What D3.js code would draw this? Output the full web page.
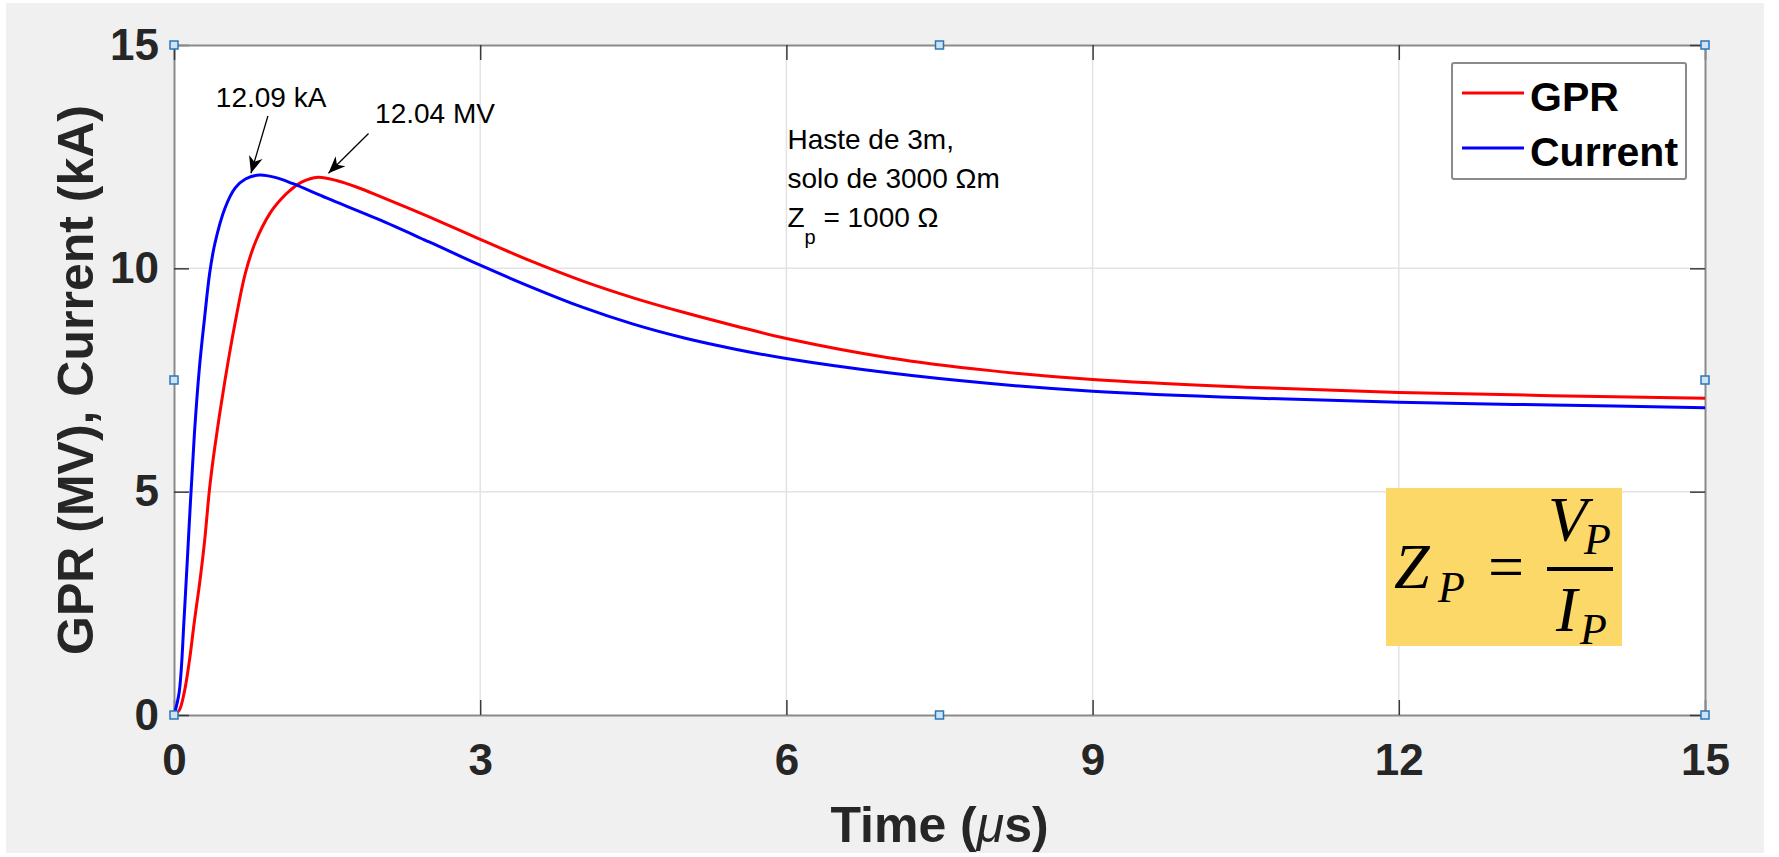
<!DOCTYPE html>
<html>
<head>
<meta charset="utf-8">
<script src="https://cdn.jsdelivr.net/npm/d3@7"></script>
<style>
  body { margin: 0; background: #ffffff; }
  svg { display: block; }
</style>
</head>
<body>
<svg id="fig" width="1779" height="857"></svg>
<script>
// current (kA), time in microseconds
var currentT = [0, 0.05, 0.1, 0.15, 0.2, 0.25, 0.3, 0.35, 0.4, 0.5, 0.6, 0.7, 0.84, 1.0, 1.16, 1.5, 2.0, 2.5, 3, 3.5, 4, 4.5, 5, 5.5, 6, 7, 8, 9, 10.5, 12, 13.5, 15];
var currentV = [0, 0.5, 2.2, 4.3, 6.3, 7.8, 8.9, 9.9, 10.55, 11.35, 11.8, 12.0, 12.09, 12.03, 11.9, 11.57, 11.1, 10.59, 10.07, 9.58, 9.13, 8.75, 8.44, 8.19, 7.98, 7.66, 7.42, 7.25, 7.10, 7.00, 6.94, 6.88];

// GPR (MV)
var gprT = [0, 0.05, 0.1, 0.15, 0.2, 0.255, 0.3, 0.35, 0.4, 0.5, 0.6, 0.7, 0.8, 0.94, 1.05, 1.14, 1.25, 1.41, 1.6, 1.8, 2.0, 2.5, 3, 3.5, 4, 4.5, 5, 5.5, 6, 7, 8, 9, 10.5, 12, 13.5, 15];
var gprV = [0, 0.1, 0.5, 1.2, 2.1, 3.02, 3.9, 5.1, 6.0, 7.5, 8.8, 9.9, 10.6, 11.23, 11.55, 11.75, 11.93, 12.04, 11.96, 11.81, 11.63, 11.15, 10.65, 10.16, 9.72, 9.34, 9.01, 8.71, 8.43, 8.0, 7.71, 7.51, 7.34, 7.22, 7.15, 7.09];

var xTicks = [0, 3, 6, 9, 12, 15];
var yTicks = [0, 5, 10, 15];

var seriesNames = ["GPR", "Current"];
var seriesColors = ["#ff0000", "#0000ff"];

// peak call-outs (data coordinates)
var peakLabels = ["12.09 kA", "12.04 MV"];
var peakText = [[0.41, 13.61], [1.97, 13.25]];
var peakTail = [[0.92, 13.41], [1.906, 13.02]];
var peakTip = [[0.754, 12.13], [1.513, 12.13]];

var noteLines = ["Haste de 3m,", "solo de 3000 \u03A9m"];

var svg = d3.select("#fig");
var pL = 174, pT = 45, pR = 1705, pB = 715;
var font = "'Liberation Sans', Arial, Helvetica, sans-serif";

// figure background
svg.append("rect").attr("x", 6).attr("y", 3).attr("width", 1758).attr("height", 850).attr("fill", "#f0f0f0");
svg.append("rect").attr("x", pL).attr("y", pT).attr("width", pR - pL).attr("height", pB - pT).attr("fill", "#ffffff");

var x = d3.scaleLinear().domain([0, 15]).range([pL, pR]);
var y = d3.scaleLinear().domain([0, 15]).range([pB, pT]);

// grid
var grid = svg.append("g");
grid.selectAll(".gx").data(xTicks.slice(1, -1)).enter().append("line")
    .attr("x1", function (d) { return x(d); }).attr("x2", function (d) { return x(d); })
    .attr("y1", pT).attr("y2", pB)
    .attr("stroke", "#e3e3e3").attr("stroke-width", 1.5);
grid.selectAll(".gy").data(yTicks.slice(1, -1)).enter().append("line")
    .attr("y1", function (d) { return y(d); }).attr("y2", function (d) { return y(d); })
    .attr("x1", pL).attr("x2", pR)
    .attr("stroke", "#e3e3e3").attr("stroke-width", 1.5);

// axes, ticks pointing inward on all four sides
function styleAxis(g) {
    g.select(".domain").attr("stroke", "#8a8a8a").attr("stroke-width", 2);
    g.selectAll(".tick line").attr("stroke", "#3a3a3a").attr("stroke-width", 1.5);
    g.selectAll(".tick text").attr("fill", "#262626")
        .style("font-family", font).style("font-weight", "bold").style("font-size", "44px");
}
svg.append("g").attr("transform", "translate(0," + pB + ")")
    .call(d3.axisBottom(x).tickValues(xTicks).tickFormat(d3.format("d")).tickSizeInner(-15).tickSizeOuter(0).tickPadding(29))
    .call(styleAxis);
svg.append("g").attr("transform", "translate(" + pL + ",0)")
    .call(d3.axisLeft(y).tickValues(yTicks).tickFormat(d3.format("d")).tickSizeInner(-15).tickSizeOuter(0).tickPadding(15))
    .call(styleAxis);
svg.append("g").attr("transform", "translate(0," + pT + ")")
    .call(d3.axisTop(x).tickValues(xTicks).tickFormat("").tickSizeInner(-15).tickSizeOuter(0))
    .call(styleAxis);
svg.append("g").attr("transform", "translate(" + pR + ",0)")
    .call(d3.axisRight(y).tickValues(yTicks).tickFormat("").tickSizeInner(-15).tickSizeOuter(0))
    .call(styleAxis);

// curves
var line = d3.line()
    .x(function (d) { return x(d[0]); })
    .y(function (d) { return y(d[1]); })
    .curve(d3.curveCatmullRom.alpha(0.5));

var gprData = d3.zip(gprT, gprV);
var currentData = d3.zip(currentT, currentV);

svg.append("path").datum(gprData).attr("d", line)
    .attr("fill", "none").attr("stroke", seriesColors[0]).attr("stroke-width", 3);
svg.append("path").datum(currentData).attr("d", line)
    .attr("fill", "none").attr("stroke", seriesColors[1]).attr("stroke-width", 3);

// axis labels
svg.append("text")
    .attr("transform", "translate(93," + (pT + pB) / 2 + ") rotate(-90)")
    .attr("text-anchor", "middle")
    .style("font-family", font).style("font-weight", "bold").style("font-size", "50px")
    .attr("fill", "#262626")
    .text("GPR (MV), Current (kA)");

var xl = svg.append("text")
    .attr("x", (pL + pR) / 2).attr("y", 842)
    .attr("text-anchor", "middle")
    .style("font-family", font).style("font-weight", "bold").style("font-size", "50px")
    .attr("fill", "#262626");
xl.append("tspan").text("Time (");
xl.append("tspan").style("font-style", "italic").style("font-weight", "normal").text("\u03BC");
xl.append("tspan").text("s)");

// arrow heads
svg.append("defs").append("marker")
    .attr("id", "head").attr("viewBox", "-18 -8 20 16")
    .attr("markerWidth", 20).attr("markerHeight", 16)
    .attr("markerUnits", "userSpaceOnUse")
    .attr("refX", 0).attr("refY", 0).attr("orient", "auto")
    .append("path").attr("d", "M0,0 L-17,-7 L-12,0 L-17,7 Z").attr("fill", "#000");

peakLabels.forEach(function (lab, i) {
    svg.append("line")
        .attr("x1", x(peakTail[i][0])).attr("y1", y(peakTail[i][1]))
        .attr("x2", x(peakTip[i][0])).attr("y2", y(peakTip[i][1]))
        .attr("stroke", "#000").attr("stroke-width", 1.3)
        .attr("marker-end", "url(#head)");
    svg.append("text")
        .attr("x", x(peakText[i][0])).attr("y", y(peakText[i][1]))
        .style("font-family", font).style("font-size", "28px")
        .attr("fill", "#000")
        .text(lab);
});

// note text
var note = svg.append("g").style("font-family", font).style("font-size", "28px").attr("fill", "#000");
noteLines.forEach(function (s, i) {
    note.append("text").attr("x", x(6.01)).attr("y", y(12.67) + i * 39).text(s);
});
var zl = note.append("text").attr("x", x(6.01)).attr("y", y(12.67) + 78);
zl.append("tspan").text("Z");
zl.append("tspan").attr("dy", 17).style("font-size", "20px").text("p");
zl.append("tspan").attr("dy", -17).text(" = 1000 \u03A9");

// legend
var lg = svg.append("g").attr("transform", "translate(" + (pR - 253) + "," + (pT + 18) + ")");
lg.append("rect").attr("width", 234).attr("height", 116).attr("rx", 2)
    .attr("fill", "#ffffff").attr("stroke", "#8a8a8a").attr("stroke-width", 2);
seriesNames.forEach(function (nm, i) {
    lg.append("line").attr("x1", 10).attr("x2", 72)
        .attr("y1", 30 + i * 55).attr("y2", 30 + i * 55)
        .attr("stroke", seriesColors[i]).attr("stroke-width", 3);
    lg.append("text").attr("x", 78).attr("y", 48 + i * 55)
        .style("font-family", font).style("font-weight", "bold").style("font-size", "41px")
        .attr("fill", "#000").text(nm);
});

// formula box
var fx = 1386, fy = 488;
var fb = svg.append("g").attr("transform", "translate(" + fx + "," + fy + ")");
fb.append("rect").attr("width", 236).attr("height", 158).attr("fill", "#fcd868");
var serif = "'Liberation Serif', 'DejaVu Serif', 'Times New Roman', serif";
function mathText(px, py, size, s) {
    return fb.append("text").attr("x", px).attr("y", py)
        .style("font-family", serif).style("font-style", "italic").style("font-size", size + "px")
        .attr("fill", "#000").text(s);
}
mathText(8, 100, 64, "Z");
mathText(52, 114, 44, "P");
fb.append("text").attr("x", 120).attr("y", 100).attr("text-anchor", "middle")
    .style("font-family", serif).style("font-size", "64px").attr("fill", "#000").text("=");
fb.append("line").attr("x1", 161).attr("x2", 227).attr("y1", 81).attr("y2", 81)
    .attr("stroke", "#000").attr("stroke-width", 4);
mathText(162, 53, 64, "V");
mathText(198, 66, 44, "P");
mathText(170, 143, 64, "I");
mathText(194, 156, 44, "P");

// selection handles
var handles = [[0, 0], [7.5, 0], [15, 0], [0, 7.5], [15, 7.5], [0, 15], [7.5, 15], [15, 15]];
svg.selectAll(".handle").data(handles).enter().append("rect")
    .attr("x", function (d) { return x(d[0]) - 4; })
    .attr("y", function (d) { return y(d[1]) - 4; })
    .attr("width", 8).attr("height", 8)
    .attr("fill", "#cfe3f5").attr("stroke", "#2a77b8").attr("stroke-width", 1.5);
</script>
</body>
</html>
